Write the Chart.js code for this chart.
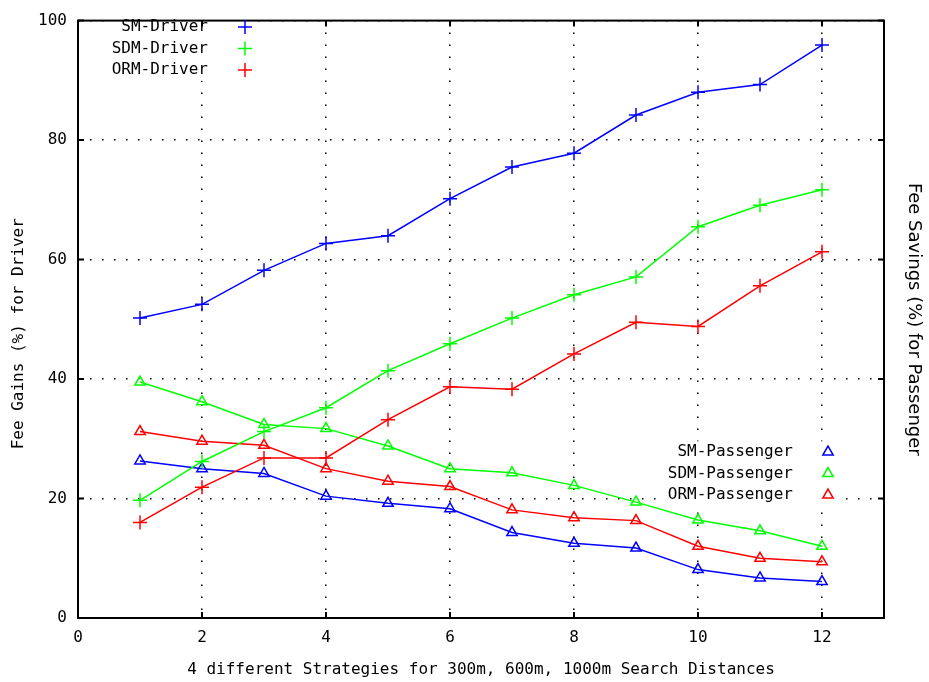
<!DOCTYPE html>
<html>
<head>
<meta charset="utf-8">
<script src="https://cdn.jsdelivr.net/npm/chart.js@4.4.0/dist/chart.umd.min.js"></script>
<style>
  html, body { margin: 0; padding: 0; background: #fff; }
  #wrap { width: 929px; height: 682px; }
</style>
</head>
<body>
<div id="wrap"><canvas id="feeChart"></canvas></div>
<script>
// --- data ---
const strategies = [1, 2, 3, 4, 5, 6, 7, 8, 9, 10, 11, 12];
const xTicks = [0, 2, 4, 6, 8, 10, 12];
const yTicks = [0, 20, 40, 60, 80, 100];

const smDriver  = [50.2, 52.5, 58.2, 62.7, 64.0, 70.2, 75.5, 77.8, 84.2, 88.0, 89.3, 95.9];
const sdmDriver = [19.7, 26.2, 31.2, 35.2, 41.4, 45.9, 50.2, 54.1, 57.1, 65.5, 69.1, 71.7];
const ormDriver = [16.0, 21.9, 26.8, 26.8, 33.2, 38.7, 38.3, 44.2, 49.5, 48.8, 55.6, 61.3];

const smPassenger  = [26.3, 25.0, 24.2, 20.4, 19.2, 18.3, 14.3, 12.5, 11.7, 8.1, 6.7, 6.1];
const sdmPassenger = [39.5, 36.2, 32.4, 31.7, 28.8, 25.0, 24.3, 22.2, 19.4, 16.4, 14.6, 12.0];
const ormPassenger = [31.2, 29.6, 28.9, 25.0, 22.9, 22.0, 18.1, 16.8, 16.3, 12.0, 10.0, 9.4];

const MONO = '"DejaVu Sans Mono", "Liberation Mono", monospace';

function toPoints(values) {
    return strategies.map((x, i) => ({ x: x, y: values[i] }));
}

function series(label, values, color, style, group) {
    return {
        label: label,
        data: toPoints(values),
        borderColor: color,
        backgroundColor: 'rgba(0,0,0,0)',
        borderWidth: 1.5,
        pointStyle: style,
        pointRadius: style === 'cross' ? 7 : 6,
        pointBorderWidth: 1.5,
        pointBorderColor: color,
        tension: 0,
        legendGroup: group
    };
}

// key placement (gnuplot style: text right-aligned, sample to the right)
const keys = [
    { group: 'driver', textRight: 208, symbolX: 245, rowY: 27 },
    { group: 'passenger', textRight: 793, symbolX: 828, rowY: 452 }
];
const KEY_ROW = 21.5;

function keyRows(chart, group) {
    return chart.data.datasets.filter(ds => ds.legendGroup === group);
}

// gnuplot-style frame, inward tick marks and the two key boxes
const gnuplotFrame = {
    id: 'gnuplotFrame',
    beforeDatasetsDraw(chart) {
        // clear the grid behind each key like gnuplot does
        const ctx = chart.ctx;
        ctx.save();
        ctx.font = '16px ' + MONO;
        ctx.fillStyle = '#fff';
        keys.forEach(k => {
            const rows = keyRows(chart, k.group);
            const w = Math.max(...rows.map(ds => ctx.measureText(ds.label).width));
            const left = k.textRight - w - 4;
            const right = k.symbolX + 12;
            const top = k.rowY - KEY_ROW / 2;
            const bottom = k.rowY + KEY_ROW * (rows.length - 0.5);
            ctx.fillRect(left, top, right - left, bottom - top);
        });
        ctx.restore();
    },
    afterDatasetsDraw(chart) {
        const ctx = chart.ctx;
        const a = chart.chartArea;
        const xs = chart.scales.x, ys = chart.scales.y;
        ctx.save();
        ctx.strokeStyle = '#000';
        ctx.lineWidth = 2;
        ctx.strokeRect(a.left, a.top, a.right - a.left, a.bottom - a.top);
        ctx.beginPath();
        xTicks.forEach(v => {
            const px = xs.getPixelForValue(v);
            ctx.moveTo(px, a.bottom); ctx.lineTo(px, a.bottom - 6);
            ctx.moveTo(px, a.top); ctx.lineTo(px, a.top + 6);
        });
        yTicks.forEach(v => {
            const py = ys.getPixelForValue(v);
            ctx.moveTo(a.left, py); ctx.lineTo(a.left + 6, py);
            ctx.moveTo(a.right, py); ctx.lineTo(a.right - 6, py);
        });
        ctx.stroke();

        ctx.font = '16px ' + MONO;
        ctx.textAlign = 'right';
        ctx.textBaseline = 'middle';
        keys.forEach(k => {
            keyRows(chart, k.group).forEach((ds, row) => {
                const y = k.rowY + row * KEY_ROW;
                ctx.fillStyle = '#000';
                ctx.fillText(ds.label, k.textRight, y);
                ctx.strokeStyle = ds.borderColor;
                ctx.fillStyle = 'rgba(0,0,0,0)';
                ctx.lineWidth = 1.5;
                Chart.helpers.drawPoint(ctx, {
                    pointStyle: ds.pointStyle,
                    radius: ds.pointRadius,
                    borderWidth: 1.5,
                    rotation: 0
                }, k.symbolX, y);
            });
        });
        ctx.restore();
    }
};

const dottedGrid = {
    color: '#000',
    lineWidth: 1.5,
    drawTicks: false
};

new Chart(document.getElementById('feeChart'), {
    type: 'line',
    data: {
        datasets: [
            series('SM-Driver', smDriver, '#0000ff', 'cross', 'driver'),
            series('SDM-Driver', sdmDriver, '#00ff00', 'cross', 'driver'),
            series('ORM-Driver', ormDriver, '#ff0000', 'cross', 'driver'),
            series('SM-Passenger', smPassenger, '#0000ff', 'triangle', 'passenger'),
            series('SDM-Passenger', sdmPassenger, '#00ff00', 'triangle', 'passenger'),
            series('ORM-Passenger', ormPassenger, '#ff0000', 'triangle', 'passenger')
        ]
    },
    options: {
        responsive: true,
        maintainAspectRatio: false,
        animation: false,
        layout: { padding: { top: 10, left: 0, right: 0, bottom: 0 } },
        plugins: {
            legend: { display: false },
            tooltip: { enabled: false }
        },
        scales: {
            x: {
                type: 'linear',
                min: 0,
                max: 13,
                afterBuildTicks: scale => { scale.ticks = xTicks.map(v => ({ value: v })); },
                afterFit: scale => { scale.height = 64; },
                grid: dottedGrid,
                border: { display: false, dash: [1.5, 10.5] },
                ticks: {
                    color: '#000',
                    padding: 10,
                    maxRotation: 0,
                    font: { family: MONO, size: 16 }
                },
                title: {
                    display: true,
                    text: '4 different Strategies for 300m, 600m, 1000m Search Distances',
                    color: '#000',
                    padding: { top: 0, bottom: 3 },
                    font: { family: MONO, size: 16 }
                }
            },
            y: {
                position: 'left',
                min: 0,
                max: 100,
                afterBuildTicks: scale => { scale.ticks = yTicks.map(v => ({ value: v })); },
                afterFit: scale => { scale.width = 78; },
                grid: dottedGrid,
                border: { display: false, dash: [1.5, 10.5] },
                ticks: {
                    color: '#000',
                    padding: 11,
                    font: { family: MONO, size: 16 }
                },
                title: {
                    display: true,
                    // trailing spaces nudge the label down like gnuplot places it
                    text: 'Fee Gains (%) for Driver   ',
                    color: '#000',
                    padding: { top: 9, bottom: 0 },
                    font: { family: MONO, size: 16 }
                }
            },
            y2: {
                position: 'right',
                min: 0,
                max: 100,
                afterFit: scale => { scale.width = 45; },
                grid: { display: false, drawTicks: false },
                border: { display: false },
                ticks: { display: false },
                title: {
                    display: true,
                    text: 'Fee Savings (%) for Passenger',
                    color: '#000',
                    padding: { top: 5, bottom: 0 },
                    font: { family: '"DejaVu Sans", sans-serif', size: 18 }
                }
            }
        }
    },
    plugins: [gnuplotFrame]
});
</script>
</body>
</html>
